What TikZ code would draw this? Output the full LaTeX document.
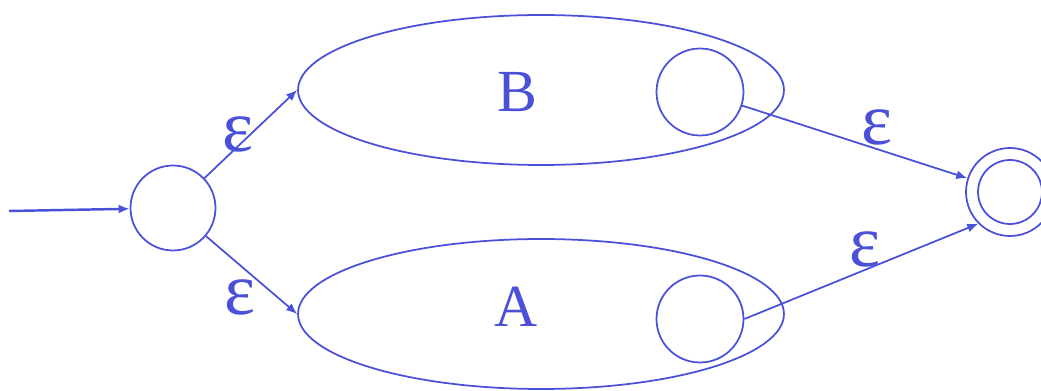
\documentclass[tikz,border=0pt]{standalone}
\usepackage{fontspec}
\setmainfont{Liberation Serif}
\usepackage{xcolor}
\definecolor{nfablue}{HTML}{4A50D8}
\usetikzlibrary{positioning, arrows.meta, shapes.geometric}

\begin{document}
\begin{tikzpicture}[x=0.02cm, y=-0.02cm, nfablue, line width=1pt,
  state/.style={circle, draw, minimum size=1.74cm, inner sep=0pt},
  blob/.style={ellipse, draw, minimum width=9.72cm, minimum height=3cm, inner sep=0pt},
  tag/.style={font=\fontsize{34}{34}\selectfont, inner sep=0pt},
  eps/.style={font=\fontsize{42}{42}\selectfont, inner sep=2pt},
  >={Latex[length=2.2mm, width=1.8mm]}]
  \useasboundingbox (0,0) rectangle (1041,391);
  % start state and the two sub-machines
  \node[state, minimum size=1.7cm] (s) at (173,208) {};
  \node[blob] (B) at (541,90) {};
  \node[blob] (A) at (541,314) {};
  \node[tag] (Bname) at (517,92) {B};
  \node[tag] (Aname) at (516,307) {A};
  \node[state] (b2) at (700,92) {};
  \node[state] (a2) at (700,319) {};
  % accepting state
  \node[state, minimum size=1.76cm] (f) at (1010,192) {};
  \node[circle, draw, minimum size=1.28cm] (fin) at (f) {};
  \coordinate (in) at (9,211);
  \draw[->, line width=1.4pt] (in) -- (s);
  \draw[->] (s) -- (B.west) node[eps, midway, left, xshift=4pt] {ε};
  \draw[->] (s) -- (A.west) node[eps, pos=0.55, below left, inner sep=0pt] {ε};
  \draw[->] (b2) -- (f) node[eps, pos=0.6, above] {ε};
  \draw[->] (a2.east) -- (f.south west) node[eps, midway, above, xshift=2pt] {ε};
\end{tikzpicture}
\end{document}
